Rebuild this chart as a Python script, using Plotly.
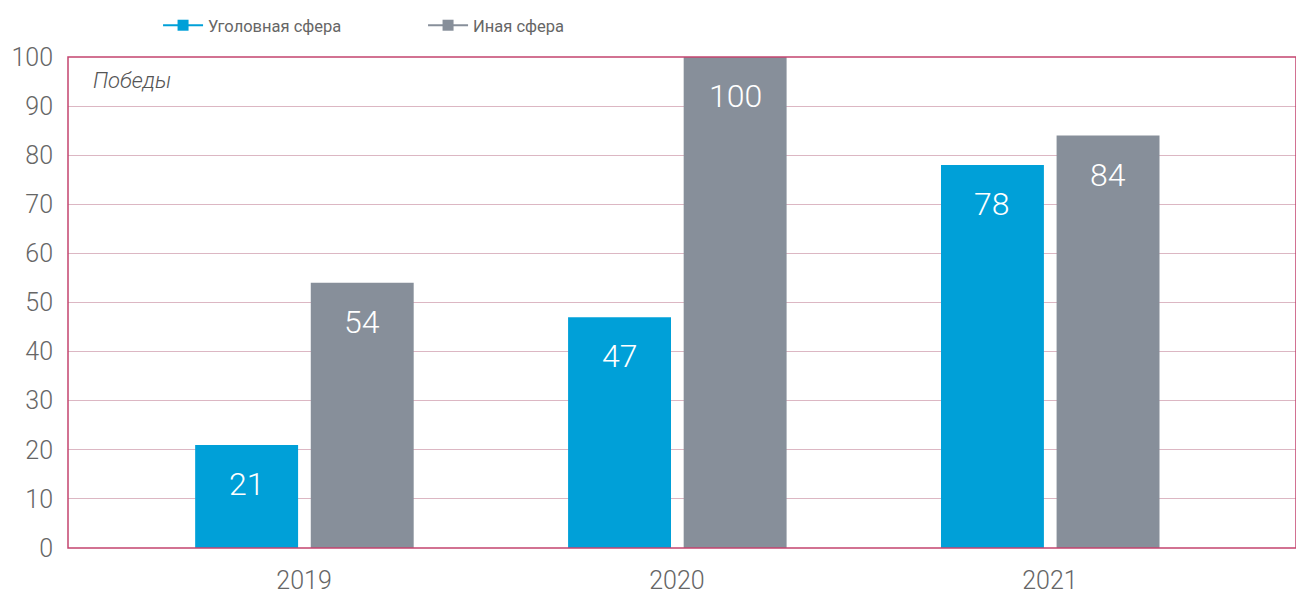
import plotly.graph_objects as go

years = ["2019", "2020", "2021"]
criminal = [21, 47, 78]
other = [54, 100, 84]
series_names = ["Уголовная сфера", "Иная сфера"]
y_ticks = [0, 10, 20, 30, 40, 50, 60, 70, 80, 90, 100]

BLUE = "#00a0d8"
GRAY = "#878f9a"
FRAME = "#c4446f"
GRID = "#dcb7c3"
TXT = "#666666"

xpos = list(range(len(years)))

fig = go.Figure()
fig.add_trace(go.Bar(x=xpos, y=criminal, width=0.276, offset=-0.292,
                     marker=dict(color=BLUE, line=dict(width=0)), showlegend=False))
fig.add_trace(go.Bar(x=xpos, y=other, width=0.276, offset=0.018,
                     marker=dict(color=GRAY, line=dict(width=0)), showlegend=False))

for name, col in zip(series_names, [BLUE, GRAY]):
    fig.add_trace(go.Scatter(x=[None], y=[None], mode="lines+markers", name=name,
                             line=dict(color=col, width=2),
                             marker=dict(color=col, symbol="square", size=11)))

lab_font = dict(family="Roboto", size=32, color="white", weight=300)
for xi, v in zip(xpos, criminal):
    fig.add_annotation(x=xi - 0.154, y=v, text=str(v), showarrow=False, yanchor="top",
                       yshift=-18, font=lab_font)
for xi, v in zip(xpos, other):
    fig.add_annotation(x=xi + 0.156, y=v, text=str(v), showarrow=False, yanchor="top",
                       yshift=-18, font=lab_font)

fig.add_annotation(x=0, y=1, xref="paper", yref="paper", xanchor="left", yanchor="top",
                   xshift=23, yshift=-9, text="<i>Победы</i>", showarrow=False,
                   font=dict(family="Roboto", size=22, color="#555555", weight=300))

fig.update_layout(
    width=1288, height=587,
    margin=dict(l=60, r=0, t=49, b=47),
    plot_bgcolor="white", paper_bgcolor="white",
    barmode="overlay",
    font=dict(family="Roboto", color=TXT),
    legend=dict(orientation="h", x=0.1165, xref="container", y=1.0, yref="container",
                yanchor="top", xanchor="left",
                font=dict(family="Roboto", size=16.5, color=TXT),
                itemwidth=40, traceorder="normal", entrywidth=210),
    shapes=[dict(type="rect", xref="paper", yref="paper", x0=0, x1=1, y0=0, y1=1,
                 line=dict(color=FRAME, width=1.5), layer="above")],
)
fig.update_xaxes(range=[-0.633, 2.66], tickmode="array", tickvals=xpos, ticktext=years,
                 showgrid=False, zeroline=False, showline=False, ticks="", automargin=False,
                 tickfont=dict(size=25, color=TXT, weight=300), ticklabelstandoff=15)
fig.update_yaxes(range=[0, 100], tickmode="array", tickvals=y_ticks, automargin=False,
                 showgrid=True, gridcolor=GRID, gridwidth=1, zeroline=False,
                 showline=False, ticks="", tickfont=dict(size=25, color=TXT, weight=300),
                 ticklabelstandoff=14)

fig.write_html("out.html")
